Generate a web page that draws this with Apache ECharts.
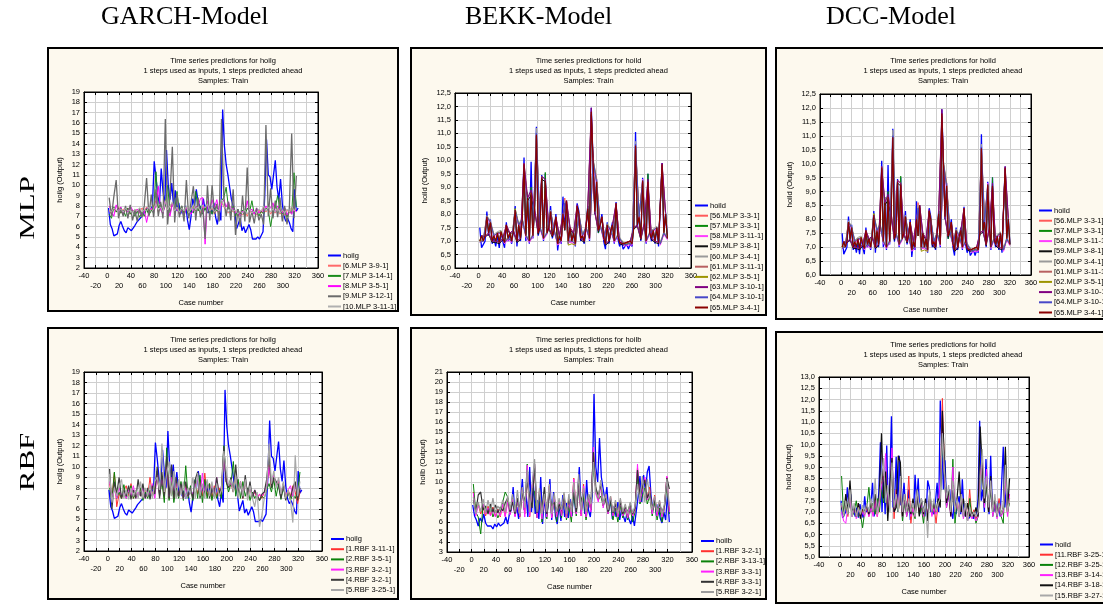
<!DOCTYPE html>
<html><head><meta charset="utf-8">
<script src="https://cdn.jsdelivr.net/npm/echarts@6/dist/echarts.min.js"></script>
<style>html,body{margin:0;padding:0;background:#fff}#c{width:1103px;height:604px}</style>
</head><body><div id="c"></div>
<script>
// ---------- DATA ----------
// actual series, cases 2,5,8,... (step 3)
const hoilg = [7.8,6.2,5.8,5.1,5.0,5.3,6.1,6.5,6.0,5.6,5.4,5.9,5.8,5.6,5.5,6.1,6.4,6.6,6.5,7.0,7.3,7.4,7.8,7.2,7.6,8.0,12.3,10.8,9.0,8.2,11.6,9.4,8.0,13.4,10.0,8.6,10.2,8.0,9.5,7.5,8.3,7.2,7.7,7.0,8.0,6.6,5.7,7.0,8.7,8.0,9.6,8.4,8.5,7.5,8.7,7.6,8.3,7.3,8.0,7.2,8.3,6.9,6.2,7.6,6.6,17.3,13.8,12.0,11.0,9.8,8.6,8.0,7.3,5.8,6.3,6.8,5.6,6.0,5.4,5.5,6.2,5.7,4.8,4.7,4.8,5.0,4.8,4.7,5.5,9.0,14.4,11.0,10.8,9.6,11.0,12.4,9.8,8.6,10.6,8.2,7.0,6.5,6.8,6.4,5.8,5.5,9.6,7.5,7.8];
const hoild = [7.5,6.75,6.8,7.0,8.1,7.2,7.8,6.9,7.1,6.8,7.2,6.75,7.35,7.0,6.75,7.7,7.0,7.2,6.9,7.4,8.3,6.8,7.6,7.0,7.9,10.1,7.0,8.6,6.9,9.95,7.1,8.4,11.25,7.2,7.5,9.45,7.0,9.5,7.3,7.5,8.3,7.1,7.4,8.0,6.65,7.2,6.9,8.65,7.4,8.5,6.9,7.5,7.0,7.3,6.8,8.4,8.1,7.0,7.2,6.9,7.5,8.3,7.0,11.95,10.0,8.0,9.3,7.3,7.6,8.0,7.0,6.7,7.7,6.9,7.4,7.7,6.9,8.45,7.1,6.8,7.0,6.7,6.65,6.9,6.7,6.9,6.8,7.6,11.05,7.5,8.0,7.0,9.35,7.7,6.9,9.5,7.3,7.0,7.4,6.9,7.5,6.8,6.75,9.9,7.2,8.05,7.1];
const hoilb = [7.7,6.6,6.2,5.6,6.4,6.0,6.8,5.9,5.6,5.4,5.6,5.3,5.8,5.5,5.9,5.6,5.4,5.9,6.5,5.8,6.8,7.2,9.5,6.6,7.5,6.3,8.0,10.3,7.2,8.8,6.5,11.5,7.0,9.8,6.8,8.2,6.3,10.5,5.8,8.5,6.4,7.6,10.3,6.2,9.0,6.6,5.8,7.8,6.1,8.7,6.5,7.9,6.4,8.3,6.6,9.6,7.0,8.4,11.5,7.3,8.7,6.8,10.2,7.2,6.5,8.6,18.8,11.5,10.0,14.4,10.5,9.3,8.2,9.5,7.1,8.3,6.3,7.6,6.5,8.0,6.2,7.3,6.6,6.0,7.0,6.3,5.8,6.6,5.6,5.7,8.5,10.6,8.0,10.7,9.0,11.0,11.6,8.7,7.2,8.4,6.6,7.8,6.4,5.9,7.0,6.2,8.8,6.0];

// GARCH / MLP predictions, cases 3,7,11,... (step 4)
const g6  = [7.6,7.2,7.8,7.4,7.9,7.3,7.7,7.5,7.8,7.2,7.6,7.4,7.7,7.3,7.8,7.5,7.9,7.2,7.6,8.0,8.5,7.4,7.8,7.3,8.6,7.5,7.9,8.3,7.4,7.8,7.2,7.6,7.4,7.9,7.1,7.6,8.0,7.5,7.8,7.3,8.0,7.7,8.1,7.4,7.8,7.2,7.6,7.3,8.4,7.9,7.6,7.3,7.7,7.4,7.5,7.0,7.4,7.1,7.5,7.0,7.6,7.2,7.4,7.1,7.6,7.3,7.9,7.4,7.8,7.2,7.6,7.3,7.7,7.2,7.5,7.1,7.6,7.3,7.9,7.4,7.7];
const g7  = [7.2,6.8,7.9,7.4,7.8,7.3,7.6,7.0,7.8,7.2,7.6,7.0,7.5,6.9,7.4,7.0,7.7,7.1,7.6,7.3,11.3,7.8,8.2,7.4,8.0,10.0,7.3,8.2,7.6,9.4,7.4,8.0,7.2,7.8,7.0,7.6,7.3,9.4,7.5,8.0,7.2,7.8,7.3,7.9,7.2,8.0,7.5,7.8,8.5,8.8,9.8,7.8,7.3,8.0,7.0,7.7,7.2,7.6,7.0,7.8,7.4,8.5,7.2,7.6,7.0,7.5,7.2,7.8,7.6,6.0,7.4,7.8,9.0,7.6,7.2,7.8,6.9,7.6,7.2,11.2,7.9];
const g8  = [8.0,7.5,7.0,8.1,7.4,7.9,7.2,7.8,7.4,8.0,7.6,7.2,7.7,7.4,7.0,7.6,6.4,7.5,7.8,7.4,8.0,9.9,7.6,7.2,8.4,7.8,7.0,8.2,7.5,7.8,7.3,7.6,7.1,7.8,7.5,7.2,7.6,7.9,8.0,8.7,8.8,4.3,8.5,7.6,8.6,7.8,8.6,7.4,8.2,8.6,7.9,8.4,7.6,7.8,7.3,7.6,7.0,7.5,7.2,8.5,7.4,7.7,7.2,7.8,7.3,7.6,7.4,8.0,7.6,7.8,8.3,7.4,8.0,7.6,7.3,7.8,7.1,7.6,7.2,7.8,7.4];
const g9  = [8.8,7.0,8.9,10.5,6.8,7.8,7.0,8.0,6.8,8.1,6.6,7.6,6.5,7.8,6.9,8.0,10.7,7.0,9.1,6.9,9.6,7.0,8.4,6.8,16.4,6.2,9.0,13.7,6.4,9.2,6.9,8.0,6.5,10.5,6.8,8.4,9.9,6.6,8.8,6.9,7.8,4.8,10.0,6.6,10.0,7.2,8.2,6.5,16.4,8.8,7.0,8.4,6.6,9.6,5.2,7.7,6.0,9.0,6.5,11.7,6.4,7.5,6.3,7.8,6.6,7.2,6.2,15.8,7.0,9.7,6.8,8.5,6.9,8.8,6.5,8.0,6.2,7.8,15.0,6.8,10.9];
const g10 = [7.6,7.4,7.8,7.6,7.5,7.7,7.4,7.8,7.5,7.6,7.3,7.7,7.5,7.8,7.4,7.6,7.5,7.9,7.4,7.7,8.2,7.6,7.9,7.4,8.5,7.6,8.0,8.4,7.5,7.9,7.4,7.8,7.5,8.0,7.3,7.7,8.1,7.6,7.9,7.5,8.1,7.8,8.2,7.5,7.9,7.4,7.7,7.5,8.6,8.0,7.7,7.4,7.8,7.5,7.6,7.2,7.5,7.3,7.6,7.2,7.7,7.3,7.5,7.3,7.7,7.5,8.0,7.5,7.9,7.4,7.7,7.4,7.8,7.3,7.6,7.3,7.7,7.4,8.0,7.5,7.8];

// BEKK & DCC / MLP predictions (hoild)
// d57, d65: cases 2,5,8,... ; d56,d58,d60,d62,d64: cases 2,8,14,... ; d59,d61,d63: cases 5,11,17,...
const d57 = [7.0,7.2,7.0,7.2,7.9,7.3,7.7,7.0,7.2,7.0,7.3,6.95,7.35,7.1,6.95,7.6,7.1,7.3,7.0,7.4,8.2,7.0,7.6,7.1,7.8,9.8,7.2,8.8,7.0,9.0,7.2,8.2,10.9,7.3,7.5,9.4,7.1,9.55,7.3,7.5,8.1,7.2,7.4,7.9,6.9,7.2,7.0,8.0,7.4,8.4,7.0,7.5,7.0,7.3,6.9,8.3,8.0,7.1,7.2,7.0,7.5,8.3,7.1,11.7,10.0,8.1,9.1,7.3,7.6,7.9,7.1,6.9,7.6,7.0,7.4,7.6,7.0,8.4,7.2,6.95,7.0,6.9,6.85,6.95,6.9,7.0,6.9,7.5,10.5,7.6,7.9,7.1,9.2,7.7,7.0,9.5,7.3,7.1,7.4,7.0,7.5,6.95,6.9,9.8,7.3,8.0,7.1];
const d65 = [7.0,7.2,7.0,7.2,7.9,7.3,7.7,7.0,7.2,7.0,7.3,6.95,7.35,7.1,6.95,7.6,7.1,7.3,7.0,7.4,8.15,7.0,7.6,7.1,7.8,9.85,7.2,8.6,7.0,8.8,7.2,8.2,10.95,7.3,7.5,9.35,7.1,9.25,7.3,7.5,8.1,7.2,7.4,7.9,6.9,7.2,7.0,8.0,7.4,8.5,7.0,7.5,7.0,7.3,6.9,8.3,8.0,7.1,7.2,7.0,7.5,8.2,7.1,11.8,10.0,8.1,9.2,7.4,7.6,7.9,7.1,6.9,7.6,7.0,7.4,7.6,7.0,8.4,7.2,6.95,7.0,6.9,6.85,6.95,6.9,7.0,6.9,7.5,10.55,7.6,7.9,7.1,9.25,7.7,7.0,9.2,7.3,7.1,7.4,7.0,7.5,6.95,6.9,9.85,7.3,8.0,7.1];
const d56 = [7.0,7.1,7.9,7.7,7.2,7.3,7.3,7.0,7.1,7.0,8.1,7.6,7.8,7.2,7.0,7.2,10.9,7.5,7.1,7.3,8.1,7.4,6.9,7.0,8.6,7.0,7.0,6.9,8.0,7.2,7.5,7.1,10.0,9.35,7.6,7.1,7.6,7.4,7.0,7.2,7.0,6.85,6.9,6.9,10.5,7.9,9.2,7.0,7.3,7.4,7.5,6.9,7.3,7.1];
const d58 = [6.95,7.0,7.85,7.65,7.15,7.25,7.3,6.9,7.05,6.95,8.1,7.55,7.75,7.15,6.95,7.15,10.9,7.45,7.05,7.25,8.05,7.35,6.85,6.95,8.3,6.95,6.95,6.85,7.95,7.15,7.45,7.05,9.9,9.1,7.55,7.05,7.55,7.35,6.95,7.15,6.95,6.8,6.85,6.85,10.5,7.85,9.3,6.95,7.25,7.35,7.45,6.85,7.25,7.05];
const d60 = [7.05,7.05,7.95,7.75,7.25,7.35,7.4,7.0,7.15,7.05,8.2,7.65,7.85,7.25,7.05,7.25,11.2,7.55,7.15,7.35,8.15,7.45,6.95,7.05,8.5,7.05,7.05,6.95,8.05,7.25,7.55,7.15,10.1,9.25,7.65,7.15,7.65,7.45,7.05,7.25,7.05,6.9,6.95,6.95,10.7,7.95,9.25,7.05,7.35,7.45,7.55,6.95,7.35,7.15];
const d62 = [7.0,7.0,7.9,7.7,7.2,7.3,7.35,6.95,7.1,7.0,8.2,7.6,7.8,7.2,7.0,7.2,10.9,7.5,7.1,7.3,8.1,7.4,6.9,7.0,8.4,6.85,6.9,6.85,8.0,7.2,7.5,7.1,10.0,9.2,7.6,7.1,7.6,7.4,7.0,7.2,7.0,6.9,6.9,6.9,10.5,7.9,9.2,7.0,7.3,7.4,7.5,6.9,7.3,7.1];
const d64 = [6.95,7.0,7.9,7.7,7.2,7.3,7.3,6.95,7.1,7.0,8.15,7.6,7.8,7.2,7.0,7.2,11.0,7.5,7.1,7.3,8.1,7.4,6.9,7.0,8.4,7.0,7.0,6.9,8.0,7.2,7.5,7.1,10.0,9.2,7.6,7.1,7.6,7.4,7.0,7.2,7.0,6.85,6.9,6.9,10.6,7.9,9.25,7.0,7.3,7.4,7.5,6.9,7.3,7.1];
const d59 = [7.15,7.15,7.25,6.95,6.95,6.9,7.05,7.55,7.25,7.35,6.95,7.05,9.8,8.5,8.7,8.1,7.25,9.3,9.2,7.45,7.15,7.85,7.15,7.95,8.4,7.45,7.25,8.25,7.05,6.95,8.15,11.7,8.05,7.35,7.85,6.85,6.95,7.55,8.35,6.9,6.85,6.9,6.95,7.45,7.55,7.05,7.65,9.15,7.05,6.95,6.9,9.8,7.95];
const d61 = [7.2,7.2,7.3,7.0,7.0,6.95,7.1,7.6,7.3,7.4,7.0,7.1,9.9,8.6,8.8,8.2,7.3,9.4,9.3,7.5,7.2,7.9,7.2,8.0,8.5,7.5,7.3,8.3,7.1,7.0,8.2,11.8,8.1,7.4,7.9,6.9,7.0,7.6,8.4,6.95,6.9,6.95,7.0,7.5,7.6,7.1,7.7,9.2,7.1,7.0,6.95,9.85,8.0];
const d63 = [7.2,7.15,7.3,7.0,7.0,6.95,7.1,7.6,7.3,7.4,7.0,7.1,9.9,8.6,8.9,8.2,7.3,9.4,9.3,7.5,7.2,7.9,7.2,8.0,8.5,7.5,7.3,8.35,7.1,7.0,8.2,11.95,8.1,7.4,7.9,6.9,7.0,7.6,8.4,6.95,6.9,6.95,7.0,7.5,7.6,7.1,7.7,9.3,7.1,7.0,6.95,9.9,8.05];

// GARCH / RBF predictions, cases 3,7,11,... (step 4)
const gr1 = [8.4,7.0,9.4,6.2,7.4,7.0,7.8,8.2,7.2,8.4,7.0,7.6,7.2,8.0,7.0,7.8,7.2,9.0,7.2,8.2,9.0,7.4,8.8,7.0,10.6,7.0,8.8,7.0,8.4,7.2,8.2,7.0,8.4,7.2,8.0,7.0,8.6,7.4,8.8,7.2,9.4,7.2,8.4,7.0,8.2,7.2,8.0,7.2,11.4,8.6,8.0,8.4,7.6,9.0,7.2,8.6,7.0,8.8,7.0,8.0,7.2,7.6,7.0,7.4,7.0,7.6,8.0,10.2,8.0,9.2,8.2,8.6,7.2,8.4,7.0,7.8,7.2,8.2,7.6,6.5,7.6];
const gr2 = [8.0,6.8,9.5,7.0,7.6,7.0,8.3,7.0,7.6,8.2,7.0,7.6,7.2,8.0,6.8,7.6,7.0,7.8,7.2,8.0,9.6,7.2,8.6,6.6,11.8,6.8,8.8,6.6,8.0,7.0,8.6,6.8,10.1,7.0,8.2,6.8,8.8,7.0,9.2,6.6,8.8,7.0,8.4,6.8,8.0,7.0,7.8,7.0,12.0,8.6,7.6,8.4,10.5,7.2,8.8,7.0,8.6,7.2,8.0,6.8,7.6,7.0,7.4,6.8,7.2,7.0,7.8,8.4,7.6,8.8,7.2,8.4,6.9,8.0,7.0,7.6,6.8,7.4,7.0,7.6,9.5];
const gr3 = [8.6,7.2,7.8,7.0,8.0,7.2,7.6,7.0,7.8,7.2,8.2,7.0,7.6,7.2,8.0,7.0,7.8,7.3,8.4,7.0,9.4,7.4,9.0,7.6,10.4,7.2,9.0,7.4,8.6,7.2,8.2,7.0,8.0,7.2,7.8,7.4,8.2,8.8,7.2,9.4,7.4,8.6,7.2,8.2,7.4,9.0,7.2,8.2,11.0,8.8,8.2,8.4,7.8,9.0,7.4,8.6,7.2,8.8,7.4,8.0,7.2,7.8,7.0,7.4,7.2,7.6,8.2,10.0,8.4,9.2,8.4,8.8,7.4,8.2,7.2,7.8,8.2,7.2,8.4,7.4,7.8];
const gr4 = [9.8,6.0,8.6,7.4,9.0,7.0,7.8,7.2,8.2,6.9,7.8,7.0,8.8,7.2,8.4,7.0,8.0,6.9,8.2,7.4,10.0,7.0,9.5,7.2,11.0,7.0,10.2,7.0,9.0,7.2,8.4,7.0,8.6,7.2,8.0,7.0,8.8,9.5,7.0,8.2,7.4,8.6,7.0,8.0,7.2,9.0,7.4,8.0,11.9,8.6,8.0,9.0,7.6,10.2,7.4,8.4,7.0,9.2,7.2,8.6,7.0,7.8,7.2,6.8,7.4,7.6,8.8,11.2,8.0,9.0,8.6,8.2,7.0,8.4,6.8,7.6,7.0,8.0,8.6,6.8,8.0];
const gr5 = [9.3,6.6,8.0,7.2,8.2,8.8,7.0,7.8,6.9,8.0,7.2,7.8,7.0,8.6,7.0,8.0,7.2,8.3,7.0,8.6,9.0,7.8,12.2,7.6,9.4,10.5,7.2,9.6,7.0,8.8,7.3,8.6,7.0,8.0,7.4,9.0,7.0,9.4,7.2,8.4,7.0,8.8,7.2,8.6,7.0,8.4,7.2,7.8,11.5,9.6,8.2,8.8,7.6,9.2,7.0,8.6,7.2,8.8,6.8,8.2,7.0,6.2,7.6,4.3,5.4,7.0,8.0,12.2,8.4,9.6,8.0,9.0,7.4,8.6,7.0,7.8,6.8,4.7,11.1,7.2,8.6];

// BEKK / RBF predictions (hoilb), cases 3,7,11,... (step 4)
const br1 = [9.0,6.9,7.8,6.8,7.5,6.6,7.6,6.7,7.5,6.6,7.3,6.5,7.9,6.6,8.2,6.8,8.5,6.6,8.3,6.5,9.4,6.8,11.0,6.5,9.6,11.5,6.5,9.2,6.4,8.8,6.6,9.6,6.5,8.6,6.6,8.2,6.7,8.8,6.5,8.4,6.6,10.4,6.9,10.2,6.6,9.8,6.4,8.6,7.2,13.2,9.0,8.2,9.8,7.6,8.8,6.9,8.6,6.7,8.0,6.6,8.2,6.7,7.5,6.5,7.7,6.6,7.3,11.4,8.2,9.4,10.3,8.4,9.5,6.9,8.7,6.7,8.1,6.6,7.6,10.5,7.1];
const br2 = [9.8,7.0,6.5,4.8,7.8,7.4,7.0,7.5,6.5,7.2,6.4,7.0,8.0,9.0,8.5,6.8,8.4,7.0,8.0,6.6,8.8,7.6,11.8,7.0,9.4,9.0,6.4,8.6,6.0,8.8,6.3,9.0,6.6,8.2,6.0,7.8,6.4,8.4,6.2,7.6,6.0,9.0,6.6,9.4,6.8,8.6,6.2,8.0,7.2,11.5,9.2,8.2,8.6,7.6,8.2,6.8,8.0,6.2,7.4,6.0,7.6,6.4,7.2,6.2,7.4,6.0,7.0,10.5,7.8,8.6,9.4,7.8,8.6,6.6,8.0,6.2,7.4,6.0,7.4,9.6,6.8];
const br3 = [8.9,6.6,7.6,7.2,7.8,6.8,7.4,6.6,7.3,6.5,7.2,6.6,7.8,6.5,8.0,6.7,8.3,6.5,8.2,6.6,9.2,6.5,11.7,6.6,9.5,11.8,6.4,9.0,6.3,8.6,6.5,9.4,6.4,8.4,6.5,8.0,6.6,8.6,6.4,8.2,6.5,10.3,6.8,10.0,6.6,9.6,6.5,8.4,7.0,13.5,8.8,8.0,9.6,7.4,8.6,6.8,8.4,6.6,7.8,6.5,8.0,6.6,7.4,6.4,7.6,6.6,7.2,11.8,8.0,9.2,10.5,8.2,9.0,6.8,8.5,6.6,8.0,6.5,7.5,10.6,7.0];
const br4 = [8.2,7.0,8.7,9.0,7.2,7.6,6.8,7.8,7.0,7.7,6.9,7.5,7.1,7.9,8.4,7.0,8.0,6.8,8.4,7.2,9.0,8.0,10.0,8.5,7.4,11.8,6.9,8.8,7.3,9.5,6.8,9.0,7.6,8.0,7.0,7.8,7.2,8.5,7.0,8.2,7.3,9.0,7.0,10.2,8.0,9.0,7.2,8.8,8.0,13.0,9.4,8.6,9.8,8.0,8.4,7.0,8.2,6.9,7.8,7.0,8.0,6.8,7.5,7.0,7.8,6.8,7.4,11.2,8.5,9.5,10.2,8.4,9.0,7.4,8.2,7.2,7.8,7.0,7.6,10.4,9.3];
const br5 = [8.5,6.8,8.0,7.0,8.3,6.9,8.2,7.0,8.4,6.9,7.6,7.2,8.2,7.0,8.6,7.2,8.8,7.0,9.2,6.8,9.5,7.4,11.2,7.0,9.8,12.3,7.0,9.4,6.8,8.8,7.0,9.8,6.8,8.9,7.0,8.4,7.2,9.0,6.8,8.8,7.0,10.0,7.4,10.8,7.2,9.4,7.0,8.8,7.8,12.0,9.0,8.4,10.2,7.8,8.8,7.2,8.6,7.0,8.2,6.8,8.4,7.0,7.8,6.8,8.0,6.9,7.6,9.8,8.2,10.6,8.0,10.3,8.6,7.2,8.6,7.0,8.2,6.8,7.8,10.3,7.6];

// DCC / RBF predictions (hoild), cases 3,7,11,... (step 4)
const dr11 = [7.3,6.9,7.3,6.8,7.8,6.9,7.2,6.8,7.4,6.8,7.1,6.9,7.2,6.8,7.4,6.9,7.5,6.8,7.4,8.4,8.6,8.0,7.2,7.6,9.0,6.7,8.0,7.0,7.8,6.8,7.6,7.0,8.6,6.5,7.3,6.8,7.8,7.0,7.5,6.8,7.4,6.8,7.7,6.9,7.3,6.5,7.4,7.8,12.05,8.8,7.3,7.9,6.9,8.5,7.0,7.6,6.9,7.8,6.8,7.3,6.7,8.0,6.8,7.1,6.7,6.9,8.4,9.6,7.3,8.6,7.0,8.3,6.9,7.5,6.8,7.6,6.9,7.1,9.0,6.9,7.6];
const dr12 = [8.6,6.8,7.4,6.9,7.6,6.8,7.0,7.5,6.8,6.9,6.3,7.0,7.2,8.1,7.0,7.4,6.9,7.6,7.0,8.0,7.4,8.4,7.0,7.8,8.8,7.0,7.4,7.0,8.0,6.6,7.4,6.8,7.2,6.9,7.0,6.7,7.6,6.9,7.2,6.5,7.4,6.8,7.5,6.9,7.2,7.0,7.3,7.6,10.2,8.4,7.2,8.0,7.0,9.35,6.5,7.4,6.8,7.6,6.8,7.2,6.6,7.6,6.8,7.0,6.5,6.8,8.0,9.0,7.2,8.2,7.0,8.0,6.8,7.4,6.8,7.2,6.8,6.5,8.8,7.0,7.4];
const dr13 = [7.0,6.6,6.5,7.2,7.6,6.8,7.2,6.7,7.2,6.7,7.0,6.8,7.3,6.8,7.2,6.8,7.6,6.8,7.4,8.2,8.4,9.6,7.0,8.0,9.85,7.0,7.6,7.2,8.2,6.8,7.6,6.8,7.4,6.8,7.2,6.8,7.8,7.0,7.4,6.8,7.4,6.9,7.6,6.8,7.2,6.9,7.4,8.4,10.6,8.6,7.2,7.8,6.8,9.0,7.0,7.4,6.8,7.6,6.7,7.2,6.6,7.0,6.7,6.9,6.6,6.8,8.2,9.4,7.2,8.9,7.0,8.4,6.8,7.4,6.7,7.2,6.8,7.0,8.6,6.8,7.8];
const dr14 = [7.2,6.9,7.8,7.0,8.4,7.0,7.2,6.8,7.4,6.7,7.2,7.0,7.3,6.9,7.5,7.0,7.8,7.0,7.8,10.5,7.6,8.8,6.6,8.2,9.4,7.0,7.2,9.5,9.2,6.8,7.8,7.0,7.4,6.9,7.6,7.0,8.0,6.8,7.6,6.9,7.6,6.6,7.9,7.0,7.4,7.0,7.6,7.2,11.5,9.2,7.4,8.0,6.8,8.2,7.0,7.6,8.8,7.0,7.6,6.8,7.4,6.8,7.0,6.8,7.2,6.8,10.8,9.0,7.4,8.4,7.0,8.6,7.0,7.6,6.8,7.4,6.9,7.2,9.9,7.0,8.5];
const dr15 = [7.4,6.8,7.5,6.9,8.0,6.8,7.4,6.8,7.2,6.9,7.3,6.9,7.4,7.0,7.6,7.0,8.5,6.9,7.6,8.6,9.4,7.4,8.2,7.0,9.2,7.2,7.8,7.0,8.6,7.0,7.8,7.0,7.6,7.0,7.4,6.8,8.0,7.2,7.6,7.0,7.4,5.85,8.0,7.0,7.6,7.0,7.4,7.6,10.5,8.8,7.6,8.2,7.0,8.4,7.0,7.6,6.8,7.8,6.8,7.4,6.6,7.2,6.8,7.0,6.8,7.0,8.0,9.8,7.6,8.6,7.2,8.4,7.0,7.8,6.8,7.4,6.9,7.2,9.1,7.0,7.6];

// text content
const headers = ['GARCH-Model', 'BEKK-Model', 'DCC-Model'];
const rowLabels = ['MLP', 'RBF'];
const subtitle = '1 steps used as inputs, 1 steps predicted ahead\nSamples: Train';

// ---------- CHART ----------
const FONT = "'Liberation Sans', Arial, Helvetica, sans-serif";
const SERIF = "'Liberation Serif', 'Times New Roman', serif";
const FS = 7.5;
function pts(start, step, vals) { return vals.map((v, i) => [start + i * step, v]); }

const mlpD = [
  ['hoild', '#0000ff', 1.3, pts(2, 3, hoild)],
  ['[56.MLP 3-3-1]', '#ff5a5a', 1, pts(2, 6, d56)],
  ['[57.MLP 3-3-1]', '#0a8a0a', 1, pts(2, 3, d57)],
  ['[58.MLP 3-11-1]', '#ff3cff', 1, pts(2, 6, d58)],
  ['[59.MLP 3-8-1]', '#101010', 1, pts(5, 6, d59)],
  ['[60.MLP 3-4-1]', '#9a9a9a', 1, pts(2, 6, d60)],
  ['[61.MLP 3-11-1]', '#b86060', 1, pts(5, 6, d61)],
  ['[62.MLP 3-5-1]', '#9c9400', 1, pts(2, 6, d62)],
  ['[63.MLP 3-10-1]', '#800080', 1, pts(5, 6, d63)],
  ['[64.MLP 3-10-1]', '#4848c8', 1, pts(2, 6, d64)],
  ['[65.MLP 3-4-1]', '#8b0000', 1.2, pts(2, 3, d65)]
];

const panels = [
  { rect: [48, 48, 350, 263], grid: [84, 92, 234, 176], y: [2, 19, 1, 0], yName: 'hoilg (Output)', yGap: 20,
    tgt: 'hoilg', tc: [223, 56], leg: [328, 251],
    series: [
      ['hoilg', '#0000ff', 1.3, pts(2, 3, hoilg)],
      ['[6.MLP 3-9-1]', '#ff6a6a', 1, pts(3, 4, g6)],
      ['[7.MLP 3-14-1]', '#1a8c1a', 1, pts(3, 4, g7)],
      ['[8.MLP 3-5-1]', '#ff00ff', 1, pts(3, 4, g8)],
      ['[9.MLP 3-12-1]', '#6b6b6b', 1.3, pts(3, 4, g9)],
      ['[10.MLP 3-11-1]', '#b0b0b0', 1, pts(3, 4, g10)]
    ] },
  { rect: [411, 48, 355, 267], grid: [455, 93, 236, 175], y: [6, 12.5, 0.5, 1], yName: 'hoild (Output)', yGap: 26,
    tgt: 'hoild', tc: [588.5, 56], leg: [695, 201], series: mlpD },
  { rect: [776, 48, 340, 271], grid: [820, 94, 211, 181], y: [6, 12.5, 0.5, 1], yName: 'hoild (Output)', yGap: 26,
    tgt: 'hoild', tc: [943, 55.5], leg: [1039, 206], series: mlpD },
  { rect: [48, 328, 350, 271], grid: [84, 372, 238, 179], y: [2, 19, 1, 0], yName: 'hoilg (Output)', yGap: 20,
    tgt: 'hoilg', tc: [223, 335], leg: [331, 534.5],
    series: [
      ['hoilg', '#0000ff', 1.3, pts(2, 3, hoilg)],
      ['[1.RBF 3-11-1]', '#ff3030', 1, pts(3, 4, gr1)],
      ['[2.RBF 3-5-1]', '#0a820a', 1, pts(3, 4, gr2)],
      ['[3.RBF 3-2-1]', '#ff20ff', 1, pts(3, 4, gr3)],
      ['[4.RBF 3-2-1]', '#3c3c3c', 1.2, pts(3, 4, gr4)],
      ['[5.RBF 3-25-1]', '#a8a8a8', 1.2, pts(3, 4, gr5)]
    ] },
  { rect: [411, 328, 355, 271], grid: [447, 372, 245, 180], y: [3, 21, 1, 0], yName: 'hoilb (Output)', yGap: 20,
    tgt: 'hoilb', tc: [588.5, 335], leg: [701, 536.5],
    series: [
      ['hoilb', '#0000ff', 1.3, pts(2, 3, hoilb)],
      ['[1.RBF 3-2-1]', '#ff3030', 1, pts(3, 4, br1)],
      ['[2.RBF 3-13-1]', '#0a820a', 1, pts(3, 4, br2)],
      ['[3.RBF 3-3-1]', '#ff20ff', 1, pts(3, 4, br3)],
      ['[4.RBF 3-3-1]', '#333333', 1.2, pts(3, 4, br4)],
      ['[5.RBF 3-2-1]', '#9c9c9c', 1.2, pts(3, 4, br5)]
    ] },
  { rect: [776, 332, 340, 271], grid: [819, 377, 210, 180], y: [5, 13, 0.5, 1], yName: 'hoild (Output)', yGap: 26,
    tgt: 'hoild', tc: [943, 340], leg: [1040, 540],
    series: [
      ['hoild', '#0000ff', 1.3, pts(2, 3, hoild)],
      ['[11.RBF 3-25-1]', '#ff3030', 1, pts(3, 4, dr11)],
      ['[12.RBF 3-25-1]', '#0a820a', 1, pts(3, 4, dr12)],
      ['[13.RBF 3-14-1]', '#ff20ff', 1, pts(3, 4, dr13)],
      ['[14.RBF 3-18-1]', '#111111', 1.2, pts(3, 4, dr14)],
      ['[15.RBF 3-27-1]', '#a8a8a8', 1.2, pts(3, 4, dr15)]
    ] }
];

const option = {
  animation: false,
  textStyle: { fontFamily: FONT },
  grid: [], xAxis: [], yAxis: [], series: [], legend: [],
  graphic: { elements: [] }
};
const G = option.graphic.elements;

panels.forEach((p, i) => {
  G.push({ type: 'rect', z: -10, silent: true,
    shape: { x: p.rect[0], y: p.rect[1], width: p.rect[2], height: p.rect[3] },
    style: { fill: '#fdf9ee', stroke: '#000', lineWidth: 2 } });
  G.push({ type: 'text', z: 100, silent: true, x: p.tc[0], y: p.tc[1],
    style: { text: 'Time series predictions for ' + p.tgt + '\n' + subtitle, fontSize: FS, fontFamily: FONT,
      fill: '#000', align: 'center', textAlign: 'center', verticalAlign: 'top', textVerticalAlign: 'top', lineHeight: 10 } });

  option.grid.push({ left: p.grid[0], top: p.grid[1], width: p.grid[2], height: p.grid[3],
    show: true, backgroundColor: '#ffffff', borderColor: '#000', borderWidth: 1, containLabel: false, outerBoundsMode: 'none' });

  const tick = { show: true, inside: true, length: 3, lineStyle: { color: '#000', width: 1 } };
  const line = { show: true, onZero: false, lineStyle: { color: '#000', width: 1 } };
  const split = { show: true, lineStyle: { color: '#cfcfcf', width: 1 } };
  const lab = { fontSize: FS, color: '#000', fontFamily: FONT };

  option.xAxis.push({ type: 'value', gridIndex: i, min: -40, max: 360, interval: 20, position: 'bottom',
    axisLine: line, axisTick: tick, splitLine: split,
    axisLabel: Object.assign({ show: true, margin: 3, lineHeight: 10, hideOverlap: false, showMinLabel: true, showMaxLabel: true,
      formatter: v => (Math.round(v) % 40 === 0 ? String(v) : '\n' + v) }, lab),
    name: 'Case number', nameLocation: 'middle', nameGap: 31, nameTextStyle: lab });
  option.xAxis.push({ type: 'value', gridIndex: i, min: -40, max: 360, interval: 20, position: 'top',
    axisLine: line, axisTick: tick, splitLine: { show: false }, axisLabel: { show: false } });

  const dec = p.y[3];
  option.yAxis.push({ type: 'value', gridIndex: i, min: p.y[0], max: p.y[1], interval: p.y[2], position: 'left',
    axisLine: line, axisTick: tick, splitLine: split,
    axisLabel: Object.assign({ show: true, margin: 4, hideOverlap: false, showMinLabel: true, showMaxLabel: true,
      formatter: v => dec ? v.toFixed(1).replace('.', ',') : String(v) }, lab),
    name: p.yName, nameLocation: 'middle', nameGap: p.yGap, nameRotate: 90, nameTextStyle: lab });
  option.yAxis.push({ type: 'value', gridIndex: i, min: p.y[0], max: p.y[1], interval: p.y[2], position: 'right',
    axisLine: line, axisTick: tick, splitLine: { show: false }, axisLabel: { show: false } });

  p.series.forEach(s => {
    option.series.push({ type: 'line', name: s[0], xAxisIndex: 2 * i, yAxisIndex: 2 * i,
      data: s[3], symbol: 'none', showSymbol: false, silent: true, clip: true,
      color: s[1], lineStyle: { color: s[1], width: s[2] }, emphasis: { disabled: true } });
  });

  option.legend.push({ orient: 'vertical', left: p.leg[0], top: p.leg[1], padding: 0, itemGap: 1.2,
    itemWidth: 13, itemHeight: 2, icon: 'rect', selectedMode: false, align: 'left',
    textStyle: { fontSize: FS, color: '#000', fontFamily: FONT, lineHeight: 9, padding: [0, 0, 0, -3] },
    data: p.series.map(s => s[0]) });
});

headers.forEach((h, k) => {
  G.push({ type: 'text', z: 100, silent: true, x: [101, 465, 826][k], y: 17,
    style: { text: h, fontSize: 26, fontFamily: SERIF, fill: '#000', align: 'left', textAlign: 'left',
      verticalAlign: 'middle', textVerticalAlign: 'middle' } });
});
rowLabels.forEach((r, k) => {
  G.push({ type: 'text', z: 100, silent: true, x: 28, y: [208, 462][k], rotation: Math.PI / 2, scaleY: 0.7,
    style: { text: r, fontSize: 31, fontFamily: SERIF, fill: '#000', align: 'center', textAlign: 'center',
      verticalAlign: 'middle', textVerticalAlign: 'middle' } });
});

const chart = echarts.init(document.getElementById('c'), null, { renderer: 'canvas' });
chart.setOption(option);
</script>
</body></html>
